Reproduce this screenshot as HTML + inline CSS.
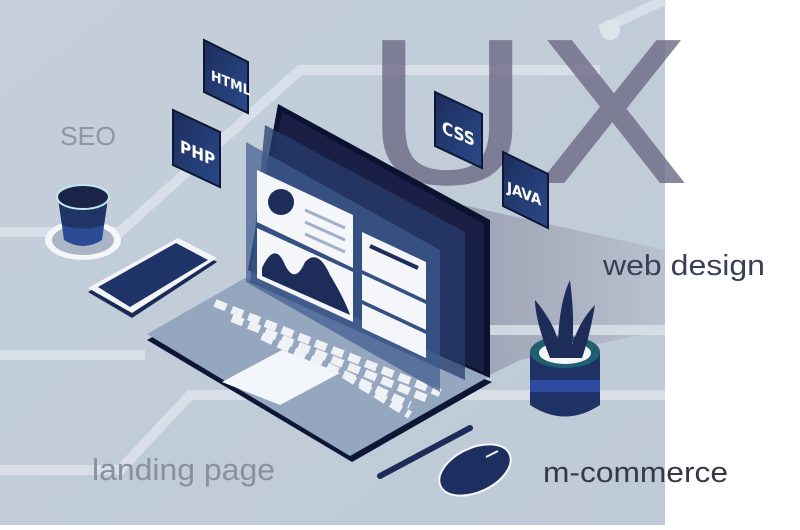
<!DOCTYPE html>
<html><head><meta charset="utf-8"><style>
html,body{margin:0;padding:0;}
body{width:800px;height:525px;overflow:hidden;background:#fff;font-family:"Liberation Sans",sans-serif;}
</style></head><body>
<svg width="800" height="525" viewBox="0 0 800 525" xmlns="http://www.w3.org/2000/svg">
<defs>
<linearGradient id="bg" x1="0" y1="0" x2="1" y2="1"><stop offset="0" stop-color="#c4cfdb"/><stop offset="1" stop-color="#bfcad7"/></linearGradient>
<linearGradient id="shad" x1="0" y1="0" x2="1" y2="0"><stop offset="0" stop-color="#8f93a6"/><stop offset="1" stop-color="#b7bfcd"/></linearGradient>
<linearGradient id="navy" x1="0" y1="0" x2="1" y2="1"><stop offset="0" stop-color="#1d2d5c"/><stop offset="1" stop-color="#2a4a8a"/></linearGradient>
</defs>
<rect x="0" y="0" width="665" height="525" fill="url(#bg)"/>
<polygon points="440,200 665,250 665,330 520,360 480,380" fill="url(#shad)" opacity="0.8"/>
<g stroke="#dde4ec" stroke-width="10" fill="none" opacity="0.8">
<polyline points="0,232 120,232 300,70 600,70"/>
<polyline points="0,355 145,355"/>
<polyline points="0,470 120,470 190,395 665,395"/>
<polyline points="600,30 665,0"/>
<polyline points="470,330 665,330"/>
</g>
<circle cx="610" cy="30" r="10" fill="#dde4ec"/>
<text x="362" y="183" font-family="DejaVu Sans, sans-serif" font-size="196" fill="#6e6a86" opacity="0.8" textLength="330" lengthAdjust="spacingAndGlyphs">UX</text>
<text x="60" y="145" font-size="26" fill="#8d97a6" textLength="56" lengthAdjust="spacingAndGlyphs">SEO</text>
<text x="603" y="275" font-size="29" fill="#3a3f55" textLength="162" lengthAdjust="spacingAndGlyphs">web design</text>
<text x="92" y="480" font-size="31" fill="#8890a0" textLength="183" lengthAdjust="spacingAndGlyphs">landing page</text>
<text x="543" y="482" font-size="29" fill="#343848" textLength="185" lengthAdjust="spacingAndGlyphs">m-commerce</text>
<!-- cup -->
<ellipse cx="83" cy="240" rx="38" ry="20" fill="#f4f6f9"/>
<ellipse cx="83" cy="240" rx="31" ry="15" fill="#aab6c6"/>
<path d="M58,198 L64,240 Q83,252 102,240 L108,198 Z" fill="#2b4c94"/>
<path d="M58,198 L62,225 Q83,232 104,225 L108,198 Z" fill="#203466"/>
<ellipse cx="83" cy="197" rx="26" ry="12" fill="#1a2448" stroke="#bfe8e6" stroke-width="2"/>
<!-- phone -->
<polygon points="88,292 178,240 217,262 132,318" fill="#1a2a55"/>
<polygon points="88,288 178,238 217,258 132,313" fill="#f2f4f8"/>
<polygon points="98,287 176,243 208,260 130,307" fill="#1e3468"/>
<!-- cubes -->
<g font-family="DejaVu Sans Condensed, DejaVu Sans, sans-serif" font-weight="bold" fill="#fff">
<polygon points="204,40 248,62 248,113 204,92" fill="url(#navy)" stroke="#0e1733" stroke-width="2"/>
<text x="0" y="0" font-size="14" transform="translate(211,80) skewY(22)">HTML</text>
<polygon points="173,110 220,132 220,187 173,165" fill="url(#navy)" stroke="#0e1733" stroke-width="2"/>
<text x="0" y="0" font-size="17" transform="translate(180,152) skewY(22)">PHP</text>
<polygon points="435,92 482,114 482,168 435,146" fill="url(#navy)" stroke="#0e1733" stroke-width="2"/>
<text x="0" y="0" font-size="17" transform="translate(442,133) skewY(22)">CSS</text>
<polygon points="503,152 548,174 548,228 503,206" fill="url(#navy)" stroke="#0e1733" stroke-width="2"/>
<text x="0" y="0" font-size="15" transform="translate(507,192) skewY(22)">JAVA</text>
</g>
<!-- laptop base -->
<polygon points="147,340 245,284 492,382 352,462" fill="#0e1635"/>
<polygon points="147,334 245,278 490,376 350,456" fill="#95a6bf"/>
<polygon points="222,382 282,350 340,373 280,405" fill="#f3f6fa"/>
<g stroke="#eef2f7" stroke-width="8" stroke-dasharray="12 6" fill="none">
<line x1="215" y1="303" x2="440" y2="393"/>
<line x1="232" y1="318" x2="430" y2="400"/>
<line x1="262" y1="336" x2="410" y2="405"/>
<line x1="345" y1="375" x2="410" y2="415"/>
</g>
<!-- screen -->
<polygon points="278,104 490,220 490,378 248,270" fill="#0b1230"/>
<polygon points="282,112 484,224 484,372 252,272" fill="#1a1f45"/>
<polygon points="265,125 465,232 465,380 250,282" fill="#283e6e" opacity="0.75"/>
<polygon points="246,142 440,250 440,392 246,282" fill="#3f5c8f" opacity="0.7"/>
<polygon points="257,170 353,215 353,268 257,222" fill="#f4f6fa"/>
<polygon points="257,228 353,272 353,322 257,278" fill="#f4f6fa"/>
<path d="M262,268 Q275,240 285,265 Q295,285 305,262 Q318,248 330,275 Q345,300 350,315 L262,276Z" fill="#1d2c58"/>
<circle cx="281" cy="202" r="13" fill="#1d2c58"/>
<g stroke="#9fb0c8" stroke-width="3"><line x1="305" y1="210" x2="345" y2="228"/><line x1="305" y1="222" x2="345" y2="240"/><line x1="305" y1="234" x2="345" y2="252"/></g>
<polygon points="362,232 426,262 426,300 362,270" fill="#f4f6fa"/>
<polygon points="362,274 426,304 426,330 362,300" fill="#f4f6fa"/>
<polygon points="362,304 426,334 426,358 362,328" fill="#f4f6fa"/>
<line x1="370" y1="246" x2="418" y2="268" stroke="#1d2c58" stroke-width="4"/>
<!-- plant -->
<path d="M530,352 L530,405 Q565,428 600,405 L600,352 Z" fill="#1e3266"/>
<rect x="530" y="380" width="70" height="12" fill="#2c4aa0"/>
<ellipse cx="565" cy="352" rx="35" ry="16" fill="#1f5f6e"/>
<ellipse cx="565" cy="353" rx="26" ry="11" fill="#f4f6fa"/>
<path d="M550,358 Q535,320 535,300 Q552,320 558,340 Q560,300 570,280 Q575,320 572,345 Q580,320 595,305 Q590,335 582,358 Z" fill="#1d2c58"/>
<line x1="380" y1="476" x2="470" y2="428" stroke="#1d2c58" stroke-width="6" stroke-linecap="round"/>
<ellipse cx="475" cy="470" rx="38" ry="22" transform="rotate(-25 475 470)" fill="#1d2f60" stroke="#f4f6fa" stroke-width="2"/>
<line x1="486" y1="457" x2="498" y2="451" stroke="#f4f6fa" stroke-width="2"/>
</svg>
</body></html>
